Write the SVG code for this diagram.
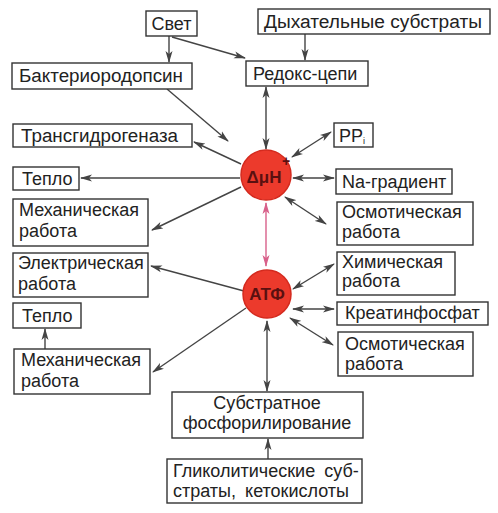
<svg xmlns="http://www.w3.org/2000/svg" width="498" height="513" viewBox="0 0 498 513">
<defs>
<style>
.box{fill:#fff;stroke:#333;stroke-width:1.4}
.t{font-family:"Liberation Sans",Arial,sans-serif;font-size:18px;fill:#222}
.c{text-anchor:middle}
.ln{stroke:#444;stroke-width:1.4;fill:none;marker-end:url(#ah)}
.bi{marker-start:url(#ah)}
.pk{stroke:#d8608a;stroke-width:1.4;fill:none;marker-end:url(#ahp);marker-start:url(#ahp)}
.circ{fill:#ec3a2c;stroke:#d42a1e;stroke-width:1.5}
.ct{font-family:"Liberation Sans",Arial,sans-serif;font-weight:bold;fill:#5a1010;text-anchor:middle}
</style>
<marker id="ah" viewBox="0 0 12 8" refX="11" refY="4" markerWidth="12" markerHeight="8" markerUnits="userSpaceOnUse" orient="auto-start-reverse">
<path d="M0,0.5 L12,4 L0,7.5 L3,4 Z" fill="#444"/>
</marker>
<marker id="ahp" viewBox="0 0 12 8" refX="11" refY="4" markerWidth="12" markerHeight="8" markerUnits="userSpaceOnUse" orient="auto-start-reverse">
<path d="M0,0.5 L12,4 L0,7.5 L3,4 Z" fill="#d8608a"/>
</marker>
</defs>
<rect width="498" height="513" fill="#fff"/>

<g id="connectors">
<line class="ln" x1="169" y1="36" x2="169" y2="62"/>
<line class="ln" x1="172" y1="37" x2="245" y2="58"/>
<line class="ln" x1="305" y1="34" x2="305" y2="60"/>
<line class="ln bi" x1="266" y1="87" x2="266" y2="149"/>
<line class="ln" x1="167" y1="89" x2="228" y2="141"/>
<line class="ln" x1="241" y1="164" x2="194" y2="142"/>
<line class="ln bi" x1="292" y1="157" x2="331" y2="132"/>
<line class="ln" x1="240" y1="178" x2="81" y2="178"/>
<line class="ln bi" x1="293" y1="178" x2="334" y2="178"/>
<line class="ln" x1="241" y1="187" x2="152" y2="230"/>
<line class="ln bi" x1="285" y1="197" x2="326" y2="224"/>
<line class="pk" x1="266" y1="203" x2="266" y2="266"/>
<line class="ln" x1="244" y1="291" x2="151" y2="266"/>
<line class="ln bi" x1="293" y1="289" x2="334" y2="264"/>
<line class="ln bi" x1="293" y1="309" x2="334" y2="309"/>
<line class="ln bi" x1="290" y1="318" x2="333" y2="345"/>
<line class="ln" x1="246" y1="308" x2="153" y2="372"/>
<line class="ln bi" x1="267" y1="321" x2="267" y2="391"/>
<line class="ln" x1="268" y1="459" x2="268" y2="439"/>
<line class="ln" x1="45" y1="349" x2="45" y2="329"/>
</g>

<g id="svet"><rect class="box" x="146" y="11" width="51" height="25"/><text class="t c" x="171.5" y="30">Свет</text></g>
<g id="dykh"><rect class="box" x="258" y="9" width="232" height="25"/><text class="t" x="264" y="28" textLength="218" lengthAdjust="spacingAndGlyphs">Дыхательные субстраты</text></g>
<g id="bakt"><rect class="box" x="12" y="63" width="180" height="26"/><text class="t" x="19" y="82" textLength="164" lengthAdjust="spacingAndGlyphs">Бактериородопсин</text></g>
<g id="redoks"><rect class="box" x="246" y="61" width="122" height="25"/><text class="t" x="253" y="80">Редокс-цепи</text></g>
<g id="trans"><rect class="box" x="13" y="124" width="179" height="23"/><text class="t" x="21" y="142" textLength="157" lengthAdjust="spacingAndGlyphs">Трансгидрогеназа</text></g>
<g id="ppi"><rect class="box" x="334" y="123" width="39" height="24"/><text class="t" x="339" y="142">PP<tspan font-size="9" dy="2">i</tspan></text></g>
<g id="teplo1"><rect class="box" x="13" y="167" width="66" height="23"/><text class="t" x="22" y="185">Тепло</text></g>
<g id="na"><rect class="box" x="336" y="169" width="116" height="25"/><text class="t" x="342" y="188">Na-градиент</text></g>
<g id="mekh1"><rect class="box" x="13" y="199" width="135" height="47"/><text class="t" x="19" y="216">Механическая<tspan x="19" y="237">работа</tspan></text></g>
<g id="osm1"><rect class="box" x="337" y="202" width="136" height="43"/><text class="t" x="342" y="218">Осмотическая<tspan x="342" y="238">работа</tspan></text></g>
<g id="elek"><rect class="box" x="13" y="253" width="135" height="44"/><text class="t" x="18" y="269">Электрическая<tspan x="18" y="290">работа</tspan></text></g>
<g id="khim"><rect class="box" x="337" y="252" width="118" height="43"/><text class="t" x="342" y="268">Химическая<tspan x="342" y="287">работа</tspan></text></g>
<g id="teplo2"><rect class="box" x="13" y="303" width="68" height="25"/><text class="t" x="22" y="322">Тепло</text></g>
<g id="kreat"><rect class="box" x="337" y="302" width="151" height="23"/><text class="t" x="345" y="319">Креатинфосфат</text></g>
<g id="mekh2"><rect class="box" x="14" y="349" width="136" height="45"/><text class="t" x="21" y="366">Механическая<tspan x="21" y="387">работа</tspan></text></g>
<g id="osm2"><rect class="box" x="338" y="332" width="135" height="44"/><text class="t" x="345" y="350">Осмотическая<tspan x="345" y="370">работа</tspan></text></g>
<g id="subst"><rect class="box" x="172" y="392" width="191" height="46"/><text class="t c" x="267" y="409">Субстратное<tspan x="267" y="429">фосфорилирование</tspan></text></g>
<g id="glik"><rect class="box" x="167" y="459" width="195" height="44"/><text class="t" x="173" y="477" word-spacing="4">Гликолитические суб-<tspan x="173" y="497">страты, кетокислоты</tspan></text></g>

<g id="dmuH"><circle class="circ" cx="266" cy="175" r="25"/><text class="ct" x="264" y="183" font-size="17">ΔμH</text><text class="ct" x="286" y="166" font-size="14">+</text></g>
<g id="atf"><circle class="circ" cx="267" cy="294" r="24"/><text class="ct" x="267" y="300" font-size="17">АТФ</text></g>
</svg>
